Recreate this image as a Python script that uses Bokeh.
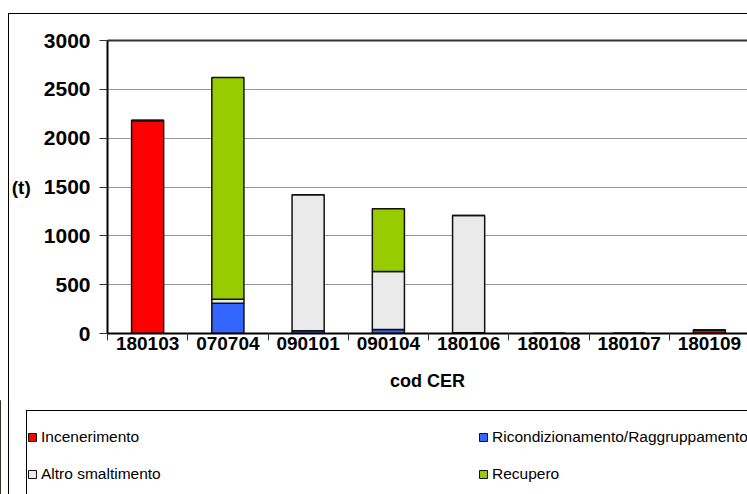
from bokeh.plotting import figure
from bokeh.layouts import column
from bokeh.models import (ColumnDataSource, Range1d, FixedTicker, Legend, LegendItem,
                          LinearAxis, InlineStyleSheet)
from bokeh.embed import file_html
from bokeh.resources import INLINE

codes = ["180103", "070704", "090101", "090104", "180106", "180108", "180107", "180109"]
incenerimento = [2180, 0, 0, 0, 0, 0, 0, 35]
ricondizionamento = [0, 310, 27, 40, 8, 0, 0, 0]
altro = [0, 41, 1393, 595, 1200, 0, 0, 0]
recupero = [0, 2270, 0, 642, 0, 0, 0, 0]

series = ["Incenerimento", "Ricondizionamento/Raggruppamento", "Altro smaltimento", "Recupero"]
colors = ["#FF0000", "#3366FF", "#EAEAEA", "#99CC00"]
y_ticks = [0, 500, 1000, 1500, 2000, 2500, 3000]

FONT = "Liberation Sans"
xs = [i + 0.5 for i in range(len(codes))]
src = ColumnDataSource(dict(x=xs, s0=incenerimento, s1=ricondizionamento, s2=altro, s3=recupero))

p = figure(width=747, height=400, frame_width=640, frame_height=293,
           x_range=Range1d(0, 7.975), y_range=Range1d(0, 3000),
           output_backend="svg", toolbar_location=None,
           min_border_left=107, min_border_right=0, min_border_top=40, min_border_bottom=67,
           x_axis_location=None, y_axis_location=None)
p.outline_line_color = None
p.background_fill_color = "white"
p.border_fill_color = "white"

rs = p.vbar_stack(["s0", "s1", "s2", "s3"], x="x", width=0.4, color=colors,
                  line_color="#111111", line_width=1.5, source=src)

# y axis
yax = LinearAxis(ticker=FixedTicker(ticks=y_ticks), axis_label="(t)",
                 axis_label_orientation="horizontal")
yax.axis_line_color = "black"
yax.axis_line_width = 2
yax.major_tick_in = 0
yax.major_tick_out = 8
yax.minor_tick_out = 0
yax.major_tick_line_color = "#333333"
yax.major_label_standoff = 9
yax.major_label_text_font = FONT
yax.major_label_text_font_style = "bold"
yax.major_label_text_font_size = "21px"
yax.major_label_text_color = "black"
yax.axis_label_text_font = FONT
yax.axis_label_text_font_style = "bold"
yax.axis_label_text_font_size = "19px"
yax.axis_label_text_color = "black"
yax.axis_label_standoff = 10
p.add_layout(yax, "left")

# x axis
xax = LinearAxis(ticker=FixedTicker(ticks=xs, minor_ticks=list(range(len(codes) + 1))),
                 axis_label="cod CER")
xax.major_label_overrides = {x: c for x, c in zip(xs, codes)}
xax.axis_line_color = "black"
xax.axis_line_width = 2
xax.major_tick_in = 0
xax.major_tick_out = 0
xax.minor_tick_in = 0
xax.minor_tick_out = 7
xax.minor_tick_line_color = "#333333"
xax.minor_tick_line_width = 1
xax.major_label_standoff = -4
xax.major_label_text_font = FONT
xax.major_label_text_font_style = "bold"
xax.major_label_text_font_size = "19px"
xax.major_label_text_color = "black"
xax.axis_label_text_font = FONT
xax.axis_label_text_font_style = "bold"
xax.axis_label_text_font_size = "18px"
xax.axis_label_text_color = "black"
xax.axis_label_standoff = 18
p.add_layout(xax, "below")

# top frame line
top = LinearAxis(ticker=FixedTicker(ticks=[]), major_label_text_font_size="0px")
top.axis_line_color = "#333333"
top.axis_line_width = 2
top.major_tick_out = 0
top.minor_tick_out = 0
p.add_layout(top, "above")

p.ygrid.ticker = FixedTicker(ticks=y_ticks[1:-1])
p.ygrid.grid_line_color = "#999999"
p.ygrid.grid_line_width = 1
p.xgrid.grid_line_color = None

# legend strip below the chart
lf = figure(width=747, height=94, x_range=Range1d(0, 1), y_range=Range1d(0, 1),
            output_backend="svg", toolbar_location=None,
            min_border=0, x_axis_location=None, y_axis_location=None)
lf.outline_line_color = None
lf.xgrid.grid_line_color = None
lf.ygrid.grid_line_color = None
lf.background_fill_color = "white"
lf.border_fill_color = "white"
for fig in (p, lf):
    if "frame_align" in fig.properties():
        fig.frame_align = False

keys = []
for c in colors:
    keys.append(lf.vbar(x=[-5], top=[1], width=0.1, fill_color=c,
                        line_color="#111111", line_width=1))

legend = Legend(items=[LegendItem(label=series[0], renderers=[keys[0]]),
                       LegendItem(label=series[1], renderers=[keys[1]]),
                       LegendItem(label=series[2], renderers=[keys[2]]),
                       LegendItem(label=series[3], renderers=[keys[3]])],
                orientation="horizontal", ncols=2, location=(27, 10))
legend.padding = 0
legend.margin = 0
legend.spacing = 17
legend.glyph_width = 10
legend.glyph_height = 10
legend.label_height = 20
legend.label_width = 420
legend.label_standoff = 4
legend.label_text_font = FONT
legend.label_text_font_size = "15.5px"
legend.label_text_color = "black"
legend.border_line_alpha = 0
legend.background_fill_alpha = 0
lf.add_layout(legend, "center")

css = InlineStyleSheet(css="""
:host { position: relative; }
:host::before { content: ""; position: absolute; left: 8px; top: 13px; width: 900px; height: 700px;
  border: 1px solid black; pointer-events: none; z-index: 10; }
:host::after { content: ""; position: absolute; left: 26px; top: 410px; width: 900px; height: 700px;
  border: 1px solid black; pointer-events: none; z-index: 10; }
""")

layout = column(p, lf, spacing=0, stylesheets=[css])

open("out.html", "w").write(file_html(layout, INLINE))
